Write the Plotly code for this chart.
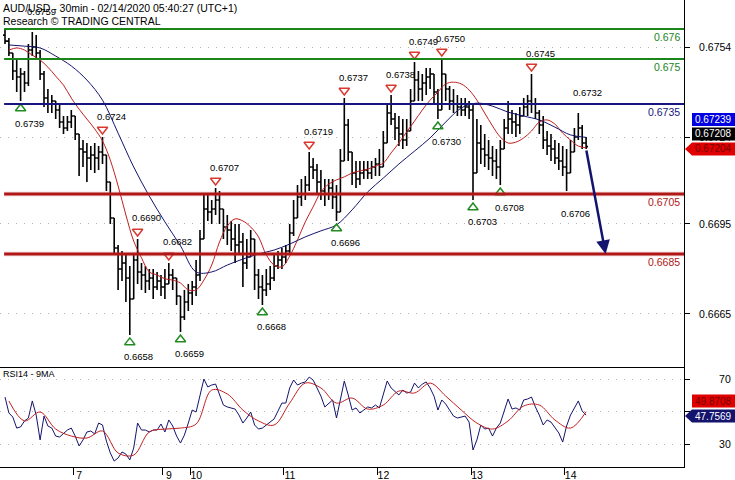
import numpy as np
import plotly.graph_objects as go
from plotly.subplots import make_subplots

FONT = "Liberation Sans, Arial, sans-serif"
PLOT_W, PLOT_H = 684, 467          # plot area in px (no left / top margin)

# ---- price bars (hourly), in pips (x1e-4) ----
bar_high = [6760, 6757, 6752, 6750, 6747, 6746, 6755, 6759, 6758, 6753,
            6746, 6740, 6738, 6736, 6735, 6731, 6731, 6733, 6731, 6725,
            6723, 6722, 6721, 6722, 6721, 6724, 6718, 6708, 6696, 6688,
            6686, 6685, 6681, 6685, 6690, 6682, 6681, 6680, 6680, 6679,
            6678, 6680, 6682, 6680, 6676, 6671, 6673, 6675, 6676, 6683,
            6693, 6705, 6705, 6703, 6707, 6706, 6700, 6698, 6696, 6695,
            6695, 6692, 6690, 6693, 6690, 6680, 6678, 6680, 6681, 6685,
            6686, 6687, 6688, 6695, 6703, 6708, 6710, 6711, 6719, 6717,
            6715, 6713, 6710, 6710, 6710, 6708, 6720, 6737, 6730, 6718,
            6716, 6716, 6716, 6716, 6716, 6717, 6720, 6726, 6735, 6738,
            6732, 6731, 6730, 6730, 6740, 6749, 6746, 6745, 6747, 6747,
            6745, 6740, 6750, 6745, 6741, 6740, 6738, 6737, 6737, 6736,
            6735, 6730, 6728, 6725, 6723, 6721, 6720, 6723, 6730, 6736,
            6733, 6732, 6734, 6737, 6738, 6745, 6737, 6733, 6731, 6726,
            6725, 6723, 6722, 6721, 6720, 6723, 6727, 6732, 6728, 6724]
bar_low = [6755, 6751, 6743, 6739, 6736, 6739, 6741, 6751, 6750, 6743,
           6734, 6732, 6732, 6730, 6727, 6725, 6726, 6727, 6723, 6711,
           6714, 6709, 6713, 6712, 6713, 6715, 6706, 6695, 6685, 6673,
           6676, 6669, 6658, 6673, 6675, 6673, 6672, 6673, 6670, 6673,
           6671, 6670, 6675, 6673, 6668, 6659, 6663, 6666, 6668, 6671,
           6676, 6691, 6696, 6695, 6698, 6695, 6690, 6688, 6686, 6682,
           6685, 6674, 6680, 6685, 6673, 6670, 6668, 6671, 6673, 6676,
           6680, 6680, 6682, 6685, 6691, 6698, 6701, 6703, 6706, 6710,
           6705, 6703, 6701, 6703, 6700, 6696, 6703, 6723, 6716, 6708,
           6707, 6708, 6710, 6710, 6710, 6711, 6711, 6715, 6725, 6728,
           6723, 6721, 6720, 6721, 6728, 6736, 6736, 6736, 6738, 6740,
           6735, 6730, 6738, 6736, 6733, 6732, 6731, 6731, 6731, 6730,
           6703, 6713, 6715, 6714, 6713, 6711, 6710, 6708, 6720, 6725,
           6725, 6724, 6725, 6731, 6731, 6732, 6730, 6725, 6720, 6718,
           6716, 6715, 6713, 6711, 6706, 6715, 6720, 6723, 6720, 6720]
bar_close = [6756, 6752, 6746, 6744, 6745, 6742, 6753, 6754, 6752, 6745,
             6737, 6735, 6736, 6733, 6729, 6727, 6729, 6731, 6725, 6720,
             6719, 6717, 6718, 6717, 6719, 6718, 6709, 6697, 6687, 6680,
             6682, 6677, 6670, 6683, 6679, 6678, 6676, 6677, 6674, 6676,
             6674, 6675, 6678, 6677, 6671, 6664, 6669, 6672, 6674, 6678,
             6690, 6700, 6699, 6700, 6703, 6700, 6694, 6693, 6690, 6688,
             6689, 6682, 6684, 6690, 6678, 6674, 6673, 6675, 6677, 6681,
             6683, 6684, 6686, 6692, 6697, 6704, 6705, 6708, 6714, 6713,
             6709, 6706, 6705, 6707, 6704, 6699, 6716, 6728, 6719, 6712,
             6710, 6712, 6713, 6712, 6714, 6715, 6714, 6722, 6732, 6730,
             6727, 6725, 6723, 6726, 6736, 6743, 6740, 6742, 6744, 6745,
             6739, 6733, 6745, 6740, 6736, 6735, 6734, 6733, 6734, 6733,
             6712, 6722, 6720, 6718, 6717, 6716, 6714, 6720, 6727, 6730,
             6729, 6728, 6731, 6734, 6736, 6735, 6732, 6728, 6723, 6721,
             6720, 6717, 6716, 6714, 6712, 6719, 6724, 6727, 6722, 6720.8]
first_open = 6758

# moving averages on price (pips); red sampled every 2nd bar, blue every 4th
ma_red = [6753.0, 6753.7, 6753.0, 6751.3, 6749.7, 6747.3, 6744.3, 6741.3, 6737.0, 6733.3,
          6730.0, 6726.7, 6722.7, 6716.3, 6707.7, 6698.0, 6689.3, 6683.7, 6679.0, 6678.0,
          6676.7, 6676.3, 6675.3, 6673.0, 6673.0, 6676.3, 6681.3, 6689.0, 6694.3, 6696.7,
          6696.0, 6694.0, 6690.7, 6684.7, 6681.3, 6680.7, 6684.3, 6689.7, 6695.7, 6700.7,
          6705.7, 6708.3, 6709.7, 6710.7, 6712.0, 6712.7, 6713.3, 6714.3, 6715.3, 6718.7,
          6722.0, 6725.7, 6729.3, 6733.0, 6736.3, 6739.0, 6741.7, 6742.3, 6741.7, 6739.7,
          6736.3, 6732.0, 6727.7, 6724.0, 6722.0, 6722.3, 6723.7, 6726.0, 6729.0, 6729.7,
          6728.3, 6725.3, 6723.0, 6721.0, 6720.4]
ma_blue = [6754.7, 6754.3, 6753.7, 6751.0, 6747.7, 6743.0, 6736.3, 6725.3, 6714.0, 6704.3,
           6695.7, 6687.7, 6679.0, 6679.0, 6681.3, 6683.3, 6685.0, 6686.3, 6688.3, 6690.7,
           6692.7, 6694.7, 6699.7, 6705.7, 6710.3, 6715.0, 6719.3, 6723.7, 6729.0, 6733.7,
           6735.3, 6734.3, 6732.3, 6731.0, 6729.7, 6727.3, 6724.7, 6723.9]

# RSI(14) per bar and its 9MA (every 4th bar)
rsi14 = [58.9, 49.1, 46.6, 39.8, 40.5, 44.2, 46.0, 56.5, 47.8, 32.5,
         47.2, 41.1, 39.8, 34.9, 34.3, 36.2, 38.6, 39.8, 34.9, 28.8,
         32.5, 37.4, 38.0, 36.2, 42.9, 41.7, 31.8, 24.5, 19.5, 21.4,
         25.1, 23.8, 20.2, 27.5, 42.9, 38.6, 38.6, 37.4, 38.6, 38.6,
         42.3, 37.4, 44.8, 41.1, 34.9, 30.6, 35.5, 42.9, 50.9, 49.7,
         60.2, 70.0, 65.1, 66.3, 66.9, 60.2, 54.0, 52.8, 52.2, 51.5,
         47.8, 42.9, 46.0, 49.7, 41.7, 39.2, 39.8, 41.7, 43.5, 45.4,
         50.3, 55.2, 55.2, 64.5, 69.4, 66.3, 67.5, 68.2, 71.2, 69.4,
         64.5, 59.5, 52.8, 55.2, 57.1, 46.0, 58.3, 68.8, 60.2, 50.9,
         52.2, 49.1, 50.9, 52.8, 52.2, 54.0, 52.2, 61.4, 68.8, 64.5,
         62.6, 60.2, 63.2, 61.4, 62.0, 67.5, 64.5, 66.9, 68.2, 64.5,
         59.5, 50.9, 57.1, 54.6, 50.9, 47.2, 46.0, 46.6, 47.2, 43.5,
         26.3, 32.5, 41.7, 39.2, 39.8, 34.9, 39.8, 42.9, 50.9, 57.7,
         51.5, 52.2, 50.9, 57.1, 57.7, 58.9, 52.8, 47.8, 41.7, 44.8,
         43.5, 39.8, 36.8, 31.2, 41.1, 47.8, 52.2, 56.5, 50.3, 47.7569]
rsi_ma9 = [56.5, 44.2, 49.7, 39.2, 34.9, 33.7, 38.0, 24.5, 23.2, 37.4,
           39.2, 39.8, 42.3, 63.2, 60.8, 50.9, 44.2, 41.7, 55.2, 67.5,
           64.5, 55.2, 58.3, 51.5, 54.0, 62.6, 61.4, 67.5, 59.5, 50.9,
           42.9, 39.2, 44.2, 53.4, 54.0, 44.8, 39.8, 49.8708]

# key levels
levels = [0.6760, 0.6750, 0.6735, 0.6705, 0.6685]
level_kind = ["res", "res", "pivot", "sup", "sup"]

# pivots (bar index + label)
peak_idx = [7, 25, 34, 42, 54, 78, 87, 99, 105, 112, 135, 147]
peak_lbl = ["0.6759", "0.6724", "0.6690", "0.6682", "0.6707", "0.6719",
            "0.6737", "0.6738", "0.6749", "0.6750", "0.6745", "0.6732"]
trough_idx = [4, 32, 45, 66, 85, 111, 120, 127, 144]
trough_lbl = ["0.6739", "0.6658", "0.6659", "0.6668", "0.6696", "0.6730",
              "0.6703", "0.6708", "0.6706"]

day_pos = [17.5, 40.5, 47.5, 71.5, 95.5, 119.5, 143.5]
day_lbl = ["7", "9", "10", "11", "12", "13", "14"]

price_ticks = [0.6754, 0.6724, 0.6695, 0.6665]
price_range = [0.66473, 0.67697]
rsi_ticks = [30, 50, 70]
rsi_range = [15.85, 77.4]

target_idx, target_price = 154, 0.6685

# ---- prep ----
cl = np.array(bar_close) / 1e4
op = np.concatenate([[first_open / 1e4], cl[:-1]])
hi = np.maximum(np.array(bar_high) / 1e4, np.maximum(op, cl))
lo = np.minimum(np.array(bar_low) / 1e4, np.minimum(op, cl))
idx = np.arange(len(cl))
red_x = np.arange(1, len(cl), 2)
blue_x = np.arange(1, len(cl), 4)

COL = {"res": "#1a861a", "pivot": "#16167e", "sup": "#b01818"}
NAVY = "#14146e"
RED = "#c02020"


def paper(x, y):
    return x / PLOT_W, (PLOT_H - y) / PLOT_H


fig = make_subplots(rows=2, cols=1, shared_xaxes=True, vertical_spacing=0,
                    row_heights=[367 / PLOT_H, 100 / PLOT_H])

fig.add_trace(go.Ohlc(x=idx, open=op, high=hi, low=lo, close=cl,
                      increasing_line_color="black", decreasing_line_color="black",
                      line_width=1.6, tickwidth=0.5, hoverinfo="skip"), row=1, col=1)
fig.add_trace(go.Scatter(x=red_x, y=np.array(ma_red) / 1e4, mode="lines",
                         line=dict(color=RED, width=1, shape="spline")), row=1, col=1)
fig.add_trace(go.Scatter(x=blue_x, y=np.array(ma_blue) / 1e4, mode="lines",
                         line=dict(color=NAVY, width=1, shape="spline")), row=1, col=1)

# pivot triangles
fig.add_trace(go.Scatter(x=peak_idx[1:-1], y=hi[peak_idx[1:-1]] + 0.00025, mode="markers",
                         marker=dict(symbol="triangle-down-open", size=9, color="#d83a30",
                                     line=dict(width=1.5))), row=1, col=1)
fig.add_trace(go.Scatter(x=trough_idx[:-1], y=lo[trough_idx[:-1]] - 0.00025, mode="markers",
                         marker=dict(symbol="triangle-up-open", size=9, color="#228b22",
                                     line=dict(width=1.5))), row=1, col=1)

for i, t in zip(peak_idx, peak_lbl):
    fig.add_annotation(x=i, y=hi[i], xref="x", yref="y", text=t, showarrow=False,
                       xshift=9, yshift=21, font=dict(size=9.5, color="black"))
for i, t in zip(trough_idx, trough_lbl):
    fig.add_annotation(x=i, y=lo[i], xref="x", yref="y", text=t, showarrow=False,
                       xshift=9, yshift=-22, font=dict(size=9.5, color="black"))

# level lines + labels
for lv, kind in zip(levels, level_kind):
    if kind == "sup":
        fig.add_shape(type="line", xref="x domain", yref="y", x0=0.006, x1=1, y0=lv, y1=lv,
                      line=dict(color="rgba(215,70,70,0.18)", width=5), layer="above")
    fig.add_shape(type="line", xref="x domain", yref="y", x0=0.006, x1=1, y0=lv, y1=lv,
                  line=dict(color=COL[kind], width=3 if kind == "sup" else 2), layer="above")
    fig.add_annotation(x=1, y=lv, xref="x domain", yref="y", text=f"{lv:g}", showarrow=False,
                       xanchor="right", xshift=-2, yshift=-8,
                       font=dict(size=10.5, color=COL[kind]))

# projection arrow
fig.add_annotation(x=target_idx, y=target_price, ax=idx[-1], ay=lo[-1],
                   xref="x", yref="y", axref="x", ayref="y", text="", showarrow=True,
                   arrowhead=2, arrowsize=1.1, arrowwidth=2.5, arrowcolor=NAVY)

# RSI panel
fig.add_trace(go.Scatter(x=idx, y=rsi14, mode="lines",
                         line=dict(color=NAVY, width=1)), row=2, col=1)
fig.add_trace(go.Scatter(x=blue_x, y=rsi_ma9, mode="lines",
                         line=dict(color=RED, width=1, shape="spline")), row=2, col=1)


def value_box(yc, text, fill, fg, pointer=False):
    y0, y1 = yc - 6.5, yc + 6.5
    pts = [(692, y0), (742, y0), (742, y1), (692, y1)]
    if pointer:
        pts = [(685, yc)] + pts
    path = "M " + " L ".join("%.5f,%.5f" % paper(x, y) for x, y in pts) + " Z"
    fig.add_shape(type="path", xref="paper", yref="paper", path=path,
                  fillcolor=fill, line=dict(width=0), layer="above")
    px_, py_ = paper(694, yc)
    fig.add_annotation(x=px_, y=py_, xref="paper", yref="paper", text=text, showarrow=False,
                       xanchor="left", yanchor="middle", borderpad=0,
                       font=dict(size=10, color=fg))


value_box(119.5, f"{ma_blue[-1] / 1e4:.5f}", "#0000e0", "white")
value_box(134, f"{cl[-1]:.5f}", "black", "white")
value_box(149, f"{ma_red[-1] / 1e4:.5f}", "#e00000", "#7a0000", pointer=True)
value_box(401, f"{rsi_ma9[-1]:.4f}", "#e00000", "#7a0000")
value_box(416, f"{rsi14[-1]:.4f}", NAVY, "white", pointer=True)

# titles
for y, t in [(7.5, "AUD/USD - 30min - 02/14/2020 05:40:27 (UTC+1)"),
             (20.5, "Research © TRADING CENTRAL")]:
    px_, py_ = paper(1, y)
    fig.add_annotation(x=px_, y=py_, xref="paper", yref="paper", text=t, showarrow=False,
                       xanchor="left", yanchor="middle", font=dict(size=10.5, color="black"))
px_, py_ = paper(1, 374)
fig.add_annotation(x=px_, y=py_, xref="paper", yref="paper", text="RSI14 - 9MA",
                   showarrow=False, xanchor="left", yanchor="middle",
                   font=dict(size=9, color="black"))

# axes
x_range = [-5 / 3.9, (PLOT_W - 5) / 3.9]
fig.update_xaxes(range=x_range, showgrid=False, zeroline=False, showline=True,
                 linecolor="black", linewidth=1, automargin=False)
fig.update_xaxes(showticklabels=False, ticks="", rangeslider_visible=False, row=1, col=1)
fig.update_xaxes(tickmode="array", tickvals=day_pos, ticktext=day_lbl, ticks="outside",
                 ticklen=7, tickcolor="black", ticklabelshift=6, ticklabelstandoff=-9,
                 tickfont=dict(size=10.5, color="black"), row=2, col=1)

grid = dict(showgrid=True, gridcolor="#b4b4b4", griddash="1px,7px", gridwidth=1,
            zeroline=False, showline=True, linecolor="black", linewidth=1, side="right",
            ticks="outside", ticklen=5, tickcolor="black", automargin=False,
            tickfont=dict(size=10.5, color="black"))
fig.update_yaxes(range=price_range, tickmode="array",
                 tickvals=price_ticks, ticktext=[f"{v:.4f}" for v in price_ticks],
                 ticklabelstandoff=7, row=1, col=1, **grid)
fig.update_yaxes(range=rsi_range, tickmode="array",
                 tickvals=rsi_ticks, ticktext=["30", "", "70"],
                 ticklabelstandoff=27, row=2, col=1, **grid)

fig.update_layout(
    template="none",
    width=735, height=480,
    margin=dict(l=0, r=735 - PLOT_W, t=0, b=480 - PLOT_H),
    paper_bgcolor="white", plot_bgcolor="white",
    font=dict(family=FONT, size=10.5, color="black"),
    showlegend=False,
    hovermode=False,
)

fig.write_html("out.html", config={"displayModeBar": False},
               post_script="document.body.style.margin='0';")
